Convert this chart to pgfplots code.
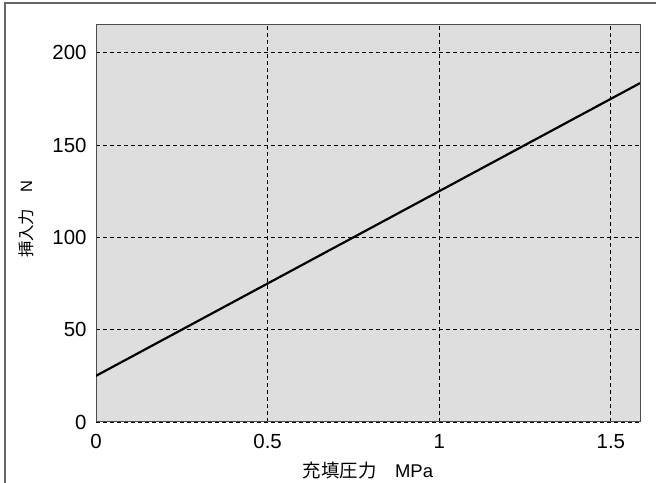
\documentclass[border=0pt]{standalone}
\usepackage{pgfplots}
\pgfplotsset{compat=1.18}
\usepackage{fontspec}
\setmainfont{Liberation Sans}
\newfontfamily\cjk{Noto Sans CJK JP}

\begin{document}
\begin{tikzpicture}[x=1bp,y=1bp]
\path[use as bounding box] (0,0) rectangle (656,483);
% frame around the figure (only left and top edges are visible)
\draw[black!60, line width=1.2bp] (5,0) -- (5,480) -- (656,480);
\begin{axis}[
    at={(96bp,61bp)}, anchor=south west,
    scale only axis,
    width=544bp, height=397bp,
    xmin=0, xmax=1.585,
    ymin=0, ymax=215,
    xtick={0,0.5,1,1.5},
    ytick={0,50,100,150,200},
    xticklabels={0,0.5,1,1.5},
    major tick length=0pt,
    grid=major,
    grid style={black, line width=0.8bp, dash pattern=on 4bp off 3bp},
    axis line style={black!70, line width=1bp},
    axis background/.style={fill=black!13},
    ticklabel style={font=\fontsize{20.5}{22}\selectfont},
    /pgf/number format/assume math mode=true,
    xticklabel style={yshift=-9bp},
    yticklabel style={xshift=-6bp},
    xlabel={{\cjk 充填圧力　}MPa},
    ylabel={{\cjk 挿入力　}N},
    xlabel style={font=\fontsize{18.5}{20}\selectfont,
        at={(axis description cs:0.5,-0.121)}, anchor=center},
    ylabel style={font=\fontsize{16.5}{18}\selectfont,
        at={(axis description cs:-0.129,0.511)}, anchor=center},
]
\addplot[black, line width=2.2bp] coordinates {(0,25) (1.585,183.5)};
\end{axis}
\end{tikzpicture}
\end{document}
